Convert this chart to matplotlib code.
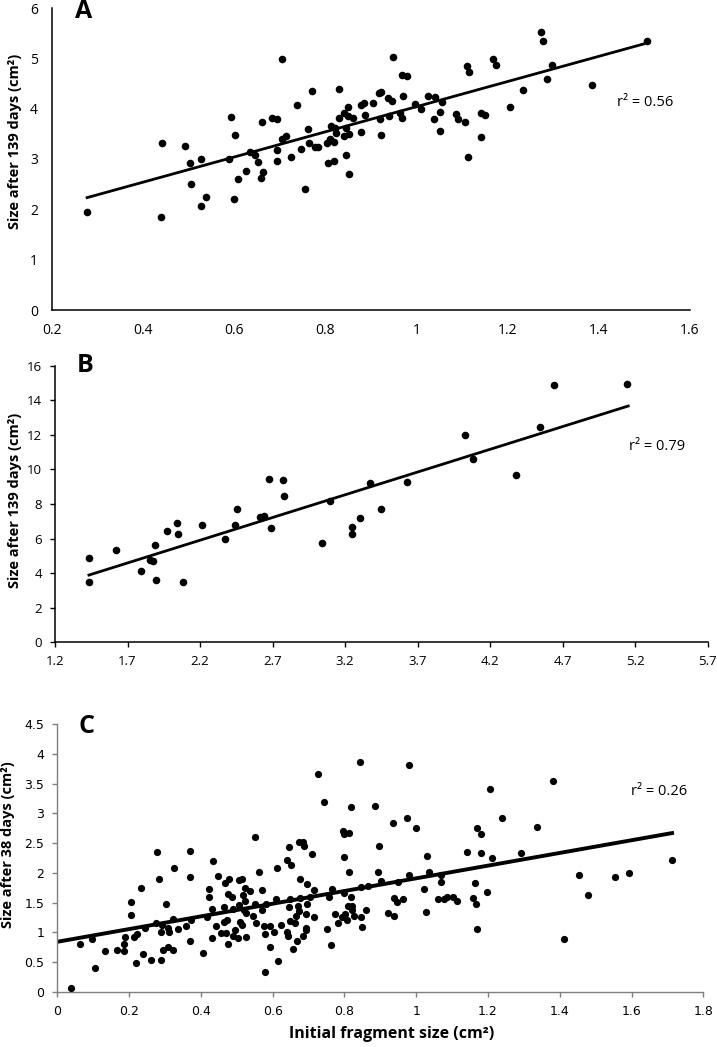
import matplotlib
matplotlib.use("Agg")
import matplotlib.pyplot as plt
import numpy as np

# ---------------- Panel A data ----------------
a_x = [0.277, 0.440, 0.441, 0.491, 0.503, 0.527, 0.504, 0.538, 0.526, 0.588,
       0.592, 0.602, 0.599, 0.608, 0.625, 0.635, 0.645, 0.652, 0.662, 0.658,
       0.661, 0.683, 0.694, 0.705, 0.694, 0.694, 0.705, 0.713, 0.725, 0.738,
       0.746, 0.755, 0.761, 0.765, 0.771, 0.778, 0.784, 0.803, 0.805, 0.809,
       0.818, 0.813, 0.822, 0.824, 0.819, 0.829, 0.830, 0.840, 0.850, 0.849,
       0.861, 0.846, 0.840, 0.851, 0.845, 0.851, 0.879, 0.879, 0.886, 0.885,
       0.905, 0.917, 0.922, 0.920, 0.922, 0.939, 0.937, 0.946, 0.948, 0.967,
       0.980, 0.970, 0.964, 0.968, 0.997, 1.010, 1.024, 1.041, 1.056, 1.051,
       1.038, 1.051, 1.087, 1.092, 1.107, 1.111, 1.114, 1.113, 1.141, 1.141,
       1.151, 1.168, 1.175, 1.206, 1.234, 1.273, 1.277, 1.286, 1.298, 1.385,
       1.506]
a_y = [1.94, 1.84, 3.31, 3.26, 2.92, 3.00, 2.50, 2.25, 2.07, 3.00,
       3.84, 3.47, 2.20, 2.60, 2.77, 3.13, 3.08, 2.94, 2.75, 2.62,
       3.74, 3.82, 3.80, 4.98, 3.17, 2.96, 3.39, 3.46, 3.04, 4.08,
       3.20, 2.40, 3.60, 3.31, 4.35, 3.23, 3.23, 3.31, 2.92, 3.39,
       3.33, 3.66, 3.62, 3.52, 2.96, 4.40, 3.82, 3.92, 4.04, 3.86,
       3.82, 3.62, 3.46, 3.49, 3.08, 2.70, 4.07, 3.54, 3.87, 4.11,
       4.12, 4.31, 4.34, 3.80, 3.47, 3.86, 4.21, 4.16, 5.02, 4.67,
       4.64, 4.26, 3.91, 3.82, 4.10, 4.00, 4.26, 4.23, 4.13, 3.94,
       3.79, 3.55, 3.89, 3.79, 3.74, 4.84, 4.72, 3.04, 3.43, 3.91,
       3.88, 4.99, 4.86, 4.04, 4.37, 5.53, 5.34, 4.59, 4.86, 4.48,
       5.34]
a_fit = (2.50, 1.54)          # slope, intercept
a_r2 = "0.56"
a_xticks = [0.2, 0.4, 0.6, 0.8, 1.0, 1.2, 1.4, 1.6]
a_xlabels = ["0.2", "0.4", "0.6", "0.8", "1", "1.2", "1.4", "1.6"]
a_yticks = [0, 1, 2, 3, 4, 5, 6]

# ---------------- Panel B data ----------------
b_x = [1.434, 1.434, 1.619, 1.793, 1.858, 1.876, 1.892, 1.899, 1.972, 2.038,
       2.050, 2.082, 2.212, 2.373, 2.439, 2.458, 2.616, 2.643, 2.673, 2.687,
       2.772, 2.779, 3.040, 3.099, 3.250, 3.250, 3.301, 3.370, 3.450, 3.626,
       4.027, 4.084, 4.377, 4.547, 4.643, 5.147]
b_y = [4.89, 3.49, 5.34, 4.12, 4.76, 4.68, 5.61, 3.60, 6.44, 6.88,
       6.28, 3.49, 6.78, 5.99, 6.80, 7.71, 7.23, 7.30, 9.46, 6.59,
       9.40, 8.48, 5.74, 8.19, 6.65, 6.25, 7.21, 9.21, 7.73, 9.27,
       11.97, 10.60, 9.68, 12.43, 14.90, 14.94]
b_fit = (2.63, 0.118)
b_r2 = "0.79"
b_xticks = [1.2, 1.7, 2.2, 2.7, 3.2, 3.7, 4.2, 4.7, 5.2, 5.7]
b_yticks = [0, 2, 4, 6, 8, 10, 12, 14, 16]

# ---------------- Panel C data ----------------
c_x = [0.038, 0.063, 0.096, 0.106, 0.132, 0.166, 0.185, 0.185, 0.188, 0.205,
       0.204, 0.214, 0.222, 0.219, 0.232, 0.240, 0.245, 0.261, 0.278, 0.283,
       0.276, 0.289, 0.293, 0.290, 0.295, 0.303, 0.309, 0.310, 0.308, 0.322,
       0.323, 0.325, 0.336, 0.358, 0.371, 0.369, 0.372, 0.370, 0.407,
       0.416, 0.423, 0.423, 0.435, 0.432, 0.431, 0.447, 0.443, 0.464, 0.457,
       0.464, 0.474, 0.469, 0.467, 0.479, 0.477, 0.486, 0.477, 0.489, 0.494,
       0.489, 0.503, 0.505, 0.505, 0.515, 0.524, 0.518, 0.522, 0.510, 0.514,
       0.520, 0.526, 0.526, 0.536, 0.544, 0.550, 0.551, 0.555, 0.563, 0.570,
       0.570, 0.577, 0.581, 0.580, 0.592, 0.580, 0.594, 0.604, 0.611, 0.610,
       0.615, 0.622, 0.639, 0.639, 0.643, 0.645, 0.650, 0.647, 0.645, 0.647,
       0.656, 0.661, 0.665, 0.669, 0.673, 0.675, 0.675, 0.671, 0.674, 0.684,
       0.685, 0.687, 0.696, 0.696, 0.694, 0.692, 0.694, 0.710, 0.714, 0.714,
       0.703, 0.727, 0.744, 0.751, 0.762, 0.766, 0.756, 0.773, 0.782, 0.793,
       0.797, 0.798, 0.800, 0.800, 0.802,
       0.844, 0.981, 0.818, 0.884, 0.812, 0.812, 0.818, 0.809, 0.820, 0.822,
       0.806, 0.828, 0.845, 0.848, 0.860, 0.845, 0.866, 0.894, 0.895, 0.902,
       0.922, 0.939, 0.934, 0.937, 0.947, 0.948, 0.962, 0.975, 0.981, 1.000,
       1.023, 1.027, 1.031, 1.037, 1.061, 1.069, 1.069, 1.078, 1.087, 1.102,
       1.114, 1.142, 1.158, 1.164, 1.166, 1.169, 1.181, 1.181, 1.170,
       1.207, 1.239, 1.212, 1.293, 1.338, 1.381, 1.196, 1.413, 1.453, 1.479,
       1.553, 1.593, 1.713]
c_y = [0.06, 0.81, 0.88, 0.40, 0.69, 0.71, 0.69, 0.80, 0.92, 1.29,
       1.51, 0.92, 0.97, 0.49, 1.74, 0.64, 1.08, 0.54, 2.35, 1.90,
       1.15, 1.01, 1.12, 0.54, 0.70, 1.48, 1.07, 1.00, 0.76, 0.71,
       1.22, 2.09, 1.05, 1.11, 2.37, 1.93, 1.21, 0.86, 0.65,
       1.25, 1.73, 1.60, 2.20, 1.39, 0.91, 1.95, 1.10, 1.42, 0.99,
       1.18, 1.21, 0.98, 1.83, 1.89, 1.65, 1.60, 0.80, 1.39, 1.04,
       0.94, 0.90, 1.46, 1.88, 1.89, 1.75, 1.62, 1.52, 1.17, 1.12,
       1.37, 1.32, 0.92, 1.70, 1.28, 1.47, 2.60, 1.16, 2.02, 1.71,
       1.37, 1.10, 1.47, 0.97, 1.10, 0.33, 0.75, 1.01, 2.09, 1.56,
       0.52, 1.13, 1.00, 2.21, 0.93, 2.44, 2.14, 1.56, 1.42, 1.19,
       0.72, 1.16, 1.28, 0.85, 2.52, 1.89, 1.57, 1.44, 1.35, 0.93,
       2.52, 2.46, 1.81, 1.48, 1.30, 1.08, 1.03, 2.31, 1.26, 1.71,
       1.59, 3.67, 3.20, 1.06, 0.78, 1.73, 1.59, 1.31, 1.16, 1.25,
       2.71, 2.65, 2.26, 1.66, 1.31,
       3.86, 3.81, 3.10, 3.13, 2.67, 2.02, 1.59, 1.44, 1.44, 1.37,
       1.21, 1.27, 1.25, 1.09, 1.37, 1.77, 1.78, 2.02, 2.46, 1.87,
       1.32, 1.28, 2.84, 1.58, 1.51, 1.84, 1.56, 2.93, 1.97, 2.76,
       1.72, 1.34, 2.29, 2.02, 1.56, 1.84, 1.97, 1.56, 1.60, 1.60,
       1.52, 2.35, 1.58, 1.83, 1.48, 2.76, 2.65, 2.34, 1.06,
       3.41, 2.92, 2.25, 2.33, 2.78, 3.55, 1.67, 0.89, 1.97, 1.62,
       1.93, 2.00, 2.22]
c_fit = (1.068, 0.84)
c_r2 = "0.26"
c_xticks = [0, 0.2, 0.4, 0.6, 0.8, 1.0, 1.2, 1.4, 1.6, 1.8]
c_xlabels = ["0", "0.2", "0.4", "0.6", "0.8", "1", "1.2", "1.4", "1.6", "1.8"]
c_yticks = [0, 0.5, 1, 1.5, 2, 2.5, 3, 3.5, 4, 4.5]
c_ylabels = ["0", "0.5", "1", "1.5", "2", "2.5", "3", "3.5", "4", "4.5"]

ylab_139 = "Size after 139 days (cm\u00b2)"
ylab_38 = "Size after 38 days (cm\u00b2)"
xlab_c = "Initial fragment size (cm\u00b2)"

FONT = "Open Sans"
plt.rcParams["font.family"] = [FONT, "DejaVu Sans"]

W, H = 717, 1047
fig = plt.figure(figsize=(W / 100, H / 100), dpi=100)


def frac(l, t, r, b):
    return [l / W, 1 - b / H, (r - l) / W, (b - t) / H]


def style(ax, color, lw):
    for s in ["top", "right"]:
        ax.spines[s].set_visible(False)
    for s in ["left", "bottom"]:
        ax.spines[s].set_color(color)
        ax.spines[s].set_linewidth(lw)


# ---------- A ----------
axA = fig.add_axes(frac(52, 8, 690, 310))
style(axA, "black", 1.1)
axA.scatter(a_x, a_y, s=30, color="black", zorder=3, linewidths=0)
xa = np.array([min(a_x), 1.498])
axA.plot(xa, a_fit[0] * xa + a_fit[1], color="black", lw=2.0, zorder=2)
axA.set_xlim(0.2, 1.6)
axA.set_ylim(0, 6)
axA.set_xticks(a_xticks)
axA.set_xticklabels(a_xlabels)
axA.set_yticks(a_yticks)
axA.tick_params(length=0, labelsize=10, pad=10)
axA.tick_params(axis="x", pad=9)
axA.set_ylabel(ylab_139, fontsize=10.5, fontweight="bold")
axA.yaxis.set_label_coords(-0.047, 0.558)
axA.text(1.44, 4.12, "r\u00b2 = " + a_r2, fontsize=10.5, va="center", ha="left")
fig.text(75 / W, 1 - 18 / H, "A", fontsize=18, fontweight="bold", ha="left", va="baseline")

# ---------- B ----------
axB = fig.add_axes(frac(55, 365.7, 707.7, 642.3))
style(axB, "black", 1.1)
axB.scatter(b_x, b_y, s=30, color="black", zorder=3, linewidths=0)
xb = np.array([min(b_x), 5.152])
axB.plot(xb, b_fit[0] * xb + b_fit[1], color="black", lw=2.0, zorder=2)
axB.set_xlim(1.2, 5.7)
axB.set_ylim(0, 16)
axB.set_xticks(b_xticks)
axB.set_yticks(b_yticks)
axB.tick_params(length=3.5, width=1.0, direction="out", labelsize=9.5, pad=6)
axB.set_ylabel(ylab_139, fontsize=10.5, fontweight="bold")
axB.yaxis.set_label_coords(-0.0506, 0.514)
axB.text(5.16, 11.35, "r\u00b2 = " + b_r2, fontsize=10.5, va="center", ha="left")
fig.text(77 / W, 1 - 372 / H, "B", fontsize=18, fontweight="bold", ha="left", va="baseline")

# ---------- C ----------
axC = fig.add_axes(frac(57.3, 724.3, 703.3, 991.7))
style(axC, "#7f7f7f", 1.0)
axC.scatter(c_x, c_y, s=27, color="black", zorder=3, linewidths=0)
xc = np.array([0.0, 1.713])
axC.plot(xc, c_fit[0] * xc + c_fit[1], color="black", lw=2.8, zorder=2)
axC.set_xlim(0, 1.8)
axC.set_ylim(0, 4.5)
axC.set_xticks(c_xticks)
axC.set_xticklabels(c_xlabels, family="DejaVu Sans")
axC.set_yticks(c_yticks)
axC.set_yticklabels(c_ylabels, family="DejaVu Sans")
axC.tick_params(length=3.5, width=1.0, color="#7f7f7f", direction="out", labelsize=9, pad=6)
axC.set_ylabel(ylab_38, fontsize=10.5, fontweight="bold")
axC.yaxis.set_label_coords(-0.0655, 0.549)
axC.set_xlabel(xlab_c, fontsize=11.5, fontweight="bold")
axC.xaxis.set_label_coords(0.517, -0.128)
axC.text(1.598, 3.37, "r\u00b2 = " + c_r2, fontsize=10.5, va="center", ha="left")
fig.text(78 / W, 1 - 733 / H, "C", fontsize=18, fontweight="bold", ha="left", va="baseline")

fig.savefig("out.png", dpi=100)
